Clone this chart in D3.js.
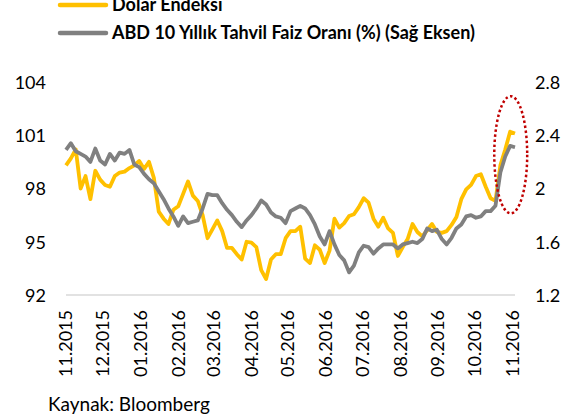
<!DOCTYPE html>
<html>
<head>
<meta charset="utf-8">
<script src="https://cdn.jsdelivr.net/npm/d3@7"></script>
<style>
  body { margin: 0; background: #fff; }
  text { font-family: Lato, "Open Sans", sans-serif; fill: #000; }
</style>
</head>
<body>
<div id="chart"></div>
<script>
// dates: every 4 days from 1 Nov 2015
const startDate = "2015-11-01";
const stepDays = 4;

const monthLabels = ["11.2015", "12.2015", "01.2016", "02.2016", "03.2016", "04.2016",
  "05.2016", "06.2016", "07.2016", "08.2016", "09.2016", "10.2016", "11.2016"];

const leftTicks = [92, 95, 98, 101, 104];
const rightTicks = [1.2, 1.6, 2, 2.4, 2.8];

// Dolar Endeksi (left axis)
const dollarIndex = [
  99.3, 99.7, 100.2, 98.0, 98.7, 97.4, 99.0, 98.5, 98.2, 98.1,
  98.7, 98.9, 98.95, 99.15, 99.3, 99.55, 99.1, 99.5, 98.6, 96.7,
  96.3, 96.0, 96.8, 97.0, 97.7, 98.4, 97.6, 97.3, 96.5, 95.2,
  95.7, 96.2, 95.6, 94.65, 94.65, 94.3, 94.0, 95.0, 94.95, 94.7,
  93.4, 92.9, 94.0, 94.3, 94.3, 95.2, 95.6, 95.6, 95.85, 94.05,
  93.8, 94.8, 94.55, 93.8, 94.5, 96.3, 95.8, 96.05, 96.45, 96.55,
  96.95, 97.45, 97.2, 96.3, 95.85, 96.35, 95.75, 95.5, 94.2, 94.7,
  95.15, 96.0, 95.55, 95.3, 95.65, 96.0, 95.55, 95.5, 95.6, 95.95,
  96.4, 97.4, 97.95, 98.2, 98.7, 98.8, 98.1, 97.45, 97.3, 99.3,
  100.2, 101.2, 101.1
];

// ABD 10 yillik tahvil faizi (right axis)
const us10y = [
  2.29, 2.34, 2.28, 2.26, 2.24, 2.20, 2.30, 2.21, 2.18, 2.26,
  2.21, 2.27, 2.26, 2.29, 2.18, 2.16, 2.11, 2.07, 2.04, 1.98,
  1.92, 1.85, 1.79, 1.72, 1.79, 1.74, 1.75, 1.76, 1.85, 1.96,
  1.95, 1.95, 1.89, 1.84, 1.80, 1.75, 1.71, 1.76, 1.80, 1.85,
  1.91, 1.88, 1.82, 1.79, 1.78, 1.74, 1.83, 1.85, 1.87, 1.85,
  1.80, 1.73, 1.64, 1.58, 1.68, 1.58, 1.50, 1.46, 1.37, 1.42,
  1.52, 1.57, 1.56, 1.51, 1.55, 1.58, 1.58, 1.58, 1.55, 1.58,
  1.59, 1.60, 1.59, 1.62, 1.70, 1.68, 1.69, 1.62, 1.58, 1.63,
  1.70, 1.73, 1.79, 1.80, 1.78, 1.79, 1.83, 1.83, 1.87, 2.12,
  2.24, 2.32, 2.31
];

const width = 575, height = 419;
const parse = d3.timeParse("%Y-%m-%d");
const t0 = parse(startDate);
const dates = dollarIndex.map((_, i) => d3.timeDay.offset(t0, i * stepDays));

const svg = d3.select("#chart").append("svg")
  .attr("width", width)
  .attr("height", height);

const x = d3.scaleTime()
  .domain([t0, dates[dates.length - 1]])
  .range([66, 515]);
const yL = d3.scaleLinear().domain([92, 104]).range([295, 82]);
const yR = d3.scaleLinear().domain([1.2, 2.8]).range([295, 82]);

// bottom axis line
svg.append("line")
  .attr("x1", x.range()[0]).attr("x2", x.range()[1])
  .attr("y1", yL(92)).attr("y2", yL(92))
  .attr("stroke", "#d9d9d9").attr("stroke-width", 1.5);

// left axis labels
const leftAxis = svg.append("g")
  .attr("transform", "translate(46,0)")
  .call(d3.axisLeft(yL).tickValues(leftTicks).tickSize(0).tickPadding(0));
leftAxis.select(".domain").remove();
leftAxis.selectAll("text").style("font-size", "18px").attr("dy", "0.35em");

// right axis labels
const rightAxis = svg.append("g")
  .attr("transform", "translate(535,0)")
  .call(d3.axisRight(yR).tickValues(rightTicks).tickSize(0).tickPadding(0)
    .tickFormat(d3.format("")));
rightAxis.select(".domain").remove();
rightAxis.selectAll("text").style("font-size", "18px").attr("dy", "0.35em");

// month labels, rotated
const monthDates = monthLabels.map(m => new Date(+m.slice(3), +m.slice(0, 2) - 1, 1));
svg.append("g").selectAll("text")
  .data(monthLabels)
  .join("text")
  .attr("transform", (d, i) => `translate(${x(monthDates[i])},310) rotate(-90)`)
  .attr("text-anchor", "end")
  .attr("dy", "0.35em")
  .style("font-size", "18px")
  .text(d => d);

// series
const lineL = d3.line().x((d, i) => x(dates[i])).y(d => yL(d));
const lineR = d3.line().x((d, i) => x(dates[i])).y(d => yR(d));

svg.append("path")
  .datum(dollarIndex)
  .attr("d", lineL)
  .attr("fill", "none")
  .attr("stroke", "#FFC000")
  .attr("stroke-width", 3.8)
  .attr("stroke-linejoin", "round");

svg.append("path")
  .datum(us10y)
  .attr("d", lineR)
  .attr("fill", "none")
  .attr("stroke", "#808080")
  .attr("stroke-width", 3.8)
  .attr("stroke-linejoin", "round");

// red dotted ellipse around the post-election jump
const ellStart = parse("2016-10-17"), ellEnd = parse("2016-11-13");
svg.append("ellipse")
  .attr("cx", (x(ellStart) + x(ellEnd)) / 2)
  .attr("cy", (yL(103.2) + yL(96.6)) / 2)
  .attr("rx", (x(ellEnd) - x(ellStart)) / 2)
  .attr("ry", (yL(96.6) - yL(103.2)) / 2)
  .attr("fill", "none")
  .attr("stroke", "#C00000")
  .attr("stroke-width", 2.5)
  .attr("stroke-dasharray", "2.5,2.5");

// legend
const legend = [
  { name: "Dolar Endeksi", color: "#FFC000", y: 5 },
  { name: "ABD 10 Yıllık Tahvil Faiz Oranı (%) (Sağ Eksen)", color: "#808080", y: 33 }
];
const lg = svg.append("g").selectAll("g").data(legend).join("g");
lg.append("line")
  .attr("x1", 60).attr("x2", 106)
  .attr("y1", d => d.y).attr("y2", d => d.y)
  .attr("stroke", d => d.color)
  .attr("stroke-width", 4.5)
  .attr("stroke-linecap", "round");
lg.append("text")
  .attr("x", 112)
  .attr("y", d => d.y)
  .attr("dy", "0.35em")
  .style("font-size", "18px")
  .style("font-weight", "bold")
  .text(d => d.name);

// source
svg.append("text")
  .attr("x", 48)
  .attr("y", 411)
  .style("font-size", "19px")
  .text("Kaynak: Bloomberg");
</script>
</body>
</html>
